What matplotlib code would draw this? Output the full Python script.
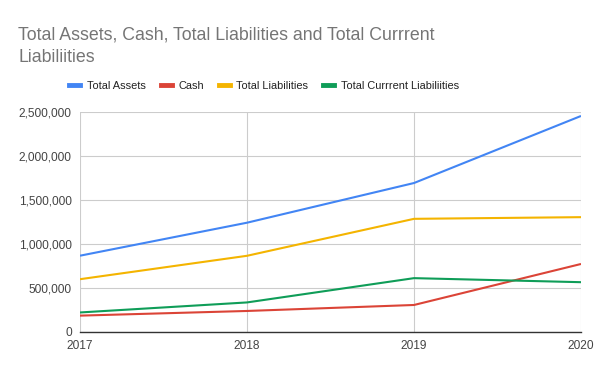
import matplotlib
matplotlib.use("Agg")
import matplotlib.pyplot as plt
from matplotlib.ticker import FuncFormatter
from matplotlib.lines import Line2D

years = [2017, 2018, 2019, 2020]
total_assets = [867000, 1242000, 1693000, 2455000]
cash = [186000, 239000, 307000, 773000]
total_liabilities = [600000, 866000, 1286000, 1305000]
total_current_liabilities = [222000, 336000, 612000, 566000]

series_names = ["Total Assets", "Cash", "Total Liabilities", "Total Currrent Liabiliities"]
colors = ["#4285F4", "#DB4437", "#F4B400", "#0F9D58"]
y_ticks = [0, 500000, 1000000, 1500000, 2000000, 2500000]

plt.rcParams['font.family'] = ['Liberation Sans', 'DejaVu Sans']

fig = plt.figure(figsize=(6, 3.71), dpi=100)
ax = fig.add_axes([80/600, 39/371, 501/600, 220/371])

for vals, c in zip([total_assets, cash, total_liabilities, total_current_liabilities], colors):
    ax.plot(years, vals, color=c, linewidth=1.5, solid_capstyle='butt', zorder=3)

ax.set_xlim(2017, 2020)
ax.set_ylim(0, 2500000)
ax.set_xticks(years)
ax.set_yticks(y_ticks)
ax.yaxis.set_major_formatter(FuncFormatter(lambda v, p: f"{int(v):,}"))
ax.grid(True, color="#cccccc", linewidth=0.8, zorder=0)
for s in ["top", "right", "left"]:
    ax.spines[s].set_visible(False)
ax.spines["bottom"].set_color("#333333")
ax.spines["bottom"].set_linewidth(1.0)
ax.spines["bottom"].set_zorder(4)
ax.tick_params(axis="both", length=0, labelsize=8.6, colors="#444444")
ax.tick_params(axis="y", pad=6)
ax.tick_params(axis="x", pad=6)

fig.text(18/600, 1 - 62/371,
         "Total Assets, Cash, Total Liabilities and Total Currrent\nLiabiliities",
         fontsize=12.8, color="#757575", ha="left", va="baseline", linespacing=1.45)

handles = [Line2D([0], [0], color=c, linewidth=3.5) for c in colors]
fig.legend(handles, series_names, loc="center", bbox_to_anchor=(264/600, 1 - 86/371),
           ncol=4, frameon=False, fontsize=7.9, handlelength=1.0, handletextpad=0.6,
           columnspacing=1.35, labelcolor="#222222")

fig.savefig("out.png", dpi=100, facecolor="white")
